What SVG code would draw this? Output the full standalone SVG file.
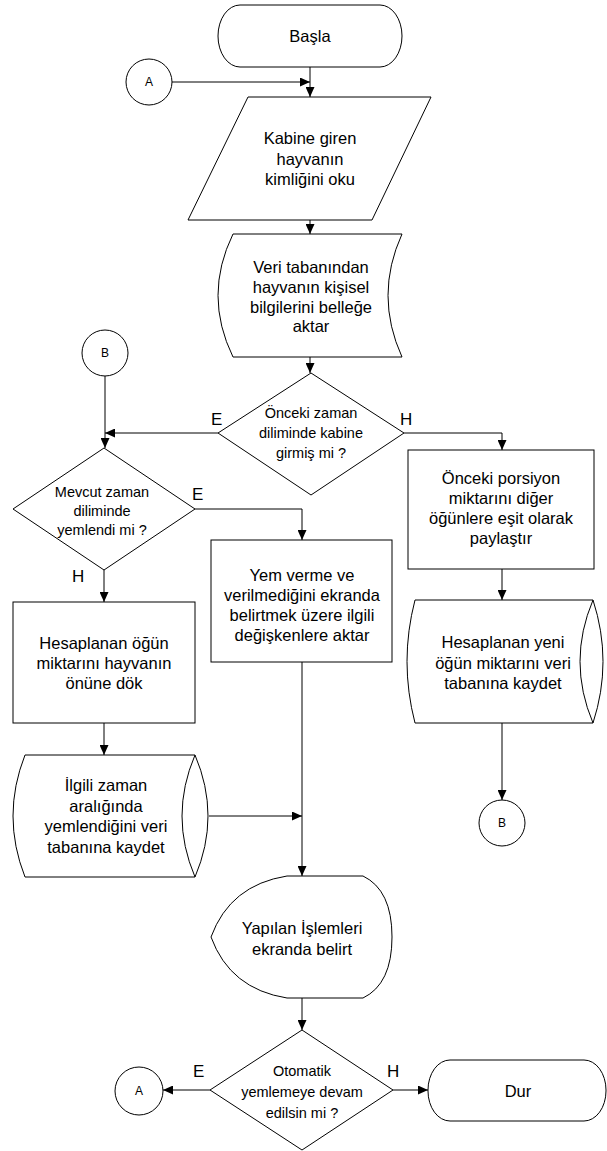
<svg xmlns="http://www.w3.org/2000/svg" width="607" height="1151" viewBox="0 0 607 1151">
<style>
.s{fill:#fff;stroke:#000;stroke-width:1}
.o{fill:none;stroke:#000;stroke-width:1}
.t{font-family:"Liberation Sans",Arial,sans-serif;font-size:16.5px;fill:#000;text-anchor:middle}
.d{font-family:"Liberation Sans",Arial,sans-serif;font-size:14.5px;fill:#000;text-anchor:middle}
.c{font-family:"Liberation Sans",Arial,sans-serif;font-size:12px;fill:#000;text-anchor:middle}
.l{font-family:"Liberation Sans",Arial,sans-serif;font-size:17px;fill:#000}
.e{fill:none;stroke:#000;stroke-width:1;marker-end:url(#ah)}
</style>
<defs>
<marker id="ah" markerUnits="userSpaceOnUse" markerWidth="10" markerHeight="9" refX="10" refY="4.5" orient="auto">
<path d="M0,0 L10,4.5 L0,9 Z" fill="#000"/>
</marker>
</defs>
<rect width="607" height="1151" fill="#fff"/>
<g id="connectors">
<path class="e" d="M310,67 V97"/>
<path class="e" d="M172,82 H310"/>
<path class="e" d="M310,220 V234"/>
<path class="e" d="M310,357 V373"/>
<path class="e" d="M218,433 H105"/>
<path class="e" d="M404,433 H502 V450"/>
<path class="e" d="M105,376 V448"/>
<path class="e" d="M195,509 H302 V540"/>
<path class="e" d="M104,570 V602"/>
<path class="e" d="M104,723 V755"/>
<path class="e" d="M209,816 H302"/>
<path class="e" d="M302,662 V876"/>
<path class="e" d="M502,569 V600"/>
<path class="e" d="M502,723 V800"/>
<path class="e" d="M302,998 V1030"/>
<path class="e" d="M210,1090 H163"/>
<path class="e" d="M393,1090 H428"/>
</g>
<g id="n-basla">
<rect class="s" x="218" y="5" width="184" height="62" rx="22" ry="31"/>
<text class="t" x="310" y="42">Başla</text>
</g>
<g id="n-a-top">
<circle class="s" cx="149" cy="82" r="23"/>
<text class="c" x="149" y="86">A</text>
</g>
<g id="n-kabine">
<path class="s" d="M248,97 H431 L372,220 H188 Z"/>
<text class="t" x="310" y="144">Kabine giren</text>
<text class="t" x="310" y="164.5">hayvanın</text>
<text class="t" x="310" y="185">kimliğini oku</text>
</g>
<g id="n-veri">
<path class="s" d="M233,234 H402 Q374,295.5 402,357 H233 Q203,295.5 233,234 Z"/>
<text class="t" x="311" y="273">Veri tabanından</text>
<text class="t" x="311" y="293">hayvanın kişisel</text>
<text class="t" x="311" y="313">bilgilerini belleğe</text>
<text class="t" x="311" y="332">aktar</text>
</g>
<g id="n-onceki-zaman">
<path class="s" d="M311,373 L404,433 L311,495 L218,433 Z"/>
<text class="d" x="311" y="418">Önceki zaman</text>
<text class="d" x="311" y="438">diliminde kabine</text>
<text class="d" x="311" y="458">girmiş mi ?</text>
<text class="l" x="211" y="425">E</text>
<text class="l" x="400" y="425">H</text>
</g>
<g id="n-b-left">
<circle class="s" cx="105" cy="353" r="23"/>
<text class="c" x="105" y="357">B</text>
</g>
<g id="n-mevcut">
<path class="s" d="M104,448 L195,509 L104,570 L13,509 Z"/>
<text class="d" x="102" y="497">Mevcut zaman</text>
<text class="d" x="102" y="516">diliminde</text>
<text class="d" x="102" y="535">yemlendi mi ?</text>
<text class="l" x="192" y="500">E</text>
<text class="l" x="72" y="582">H</text>
</g>
<g id="n-porsiyon">
<rect class="s" x="408" y="450" width="186" height="119"/>
<text class="t" x="501" y="484">Önceki porsiyon</text>
<text class="t" x="501" y="504">miktarını diğer</text>
<text class="t" x="501" y="524">öğünlere eşit olarak</text>
<text class="t" x="501" y="544">paylaştır</text>
</g>
<g id="n-yem-verme">
<rect class="s" x="211" y="540" width="181" height="122"/>
<text class="t" x="302" y="581">Yem verme ve</text>
<text class="t" x="302" y="601">verilmediğini ekranda</text>
<text class="t" x="302" y="621">belirtmek üzere ilgili</text>
<text class="t" x="302" y="641">değişkenlere aktar</text>
</g>
<g id="n-hesaplanan-ogun">
<rect class="s" x="13" y="602" width="182" height="121"/>
<text class="t" x="104" y="649">Hesaplanan öğün</text>
<text class="t" x="104" y="669">miktarını hayvanın</text>
<text class="t" x="104" y="689">önüne dök</text>
</g>
<g id="n-yeni-ogun">
<path class="s" d="M415,600 H593 Q567,661.5 593,723 H415 Q399,661.5 415,600 Z"/>
<path class="o" d="M593,600 Q613,661.5 593,723"/>
<text class="t" x="503" y="648">Hesaplanan yeni</text>
<text class="t" x="503" y="668.5">öğün miktarını veri</text>
<text class="t" x="503" y="689">tabanına kaydet</text>
</g>
<g id="n-b-right">
<circle class="s" cx="502" cy="823" r="23"/>
<text class="c" x="502" y="827">B</text>
</g>
<g id="n-ilgili">
<path class="s" d="M25,755 H195 Q169,816 195,877 H25 Q1,816 25,755 Z"/>
<path class="o" d="M195,755 Q221,816 195,877"/>
<text class="t" x="106" y="791">İlgili zaman</text>
<text class="t" x="106" y="811.5">aralığında</text>
<text class="t" x="106" y="832">yemlendiğini veri</text>
<text class="t" x="106" y="852.5">tabanına kaydet</text>
</g>
<g id="n-yapilan">
<path class="s" d="M287,876 H363 Q392,890 392,937 Q392,984 363,998 H287 Q230,989 211,937 Q230,885 287,876 Z"/>
<text class="t" x="302" y="934">Yapılan İşlemleri</text>
<text class="t" x="302" y="955">ekranda belirt</text>
</g>
<g id="n-otomatik">
<path class="s" d="M302,1030 L393,1090 L302,1150 L210,1090 Z"/>
<text class="d" x="302" y="1076">Otomatik</text>
<text class="d" x="302" y="1097">yemlemeye devam</text>
<text class="d" x="302" y="1118">edilsin mi ?</text>
<text class="l" x="193" y="1077">E</text>
<text class="l" x="387" y="1077">H</text>
</g>
<g id="n-a-bottom">
<circle class="s" cx="139" cy="1091" r="24"/>
<text class="c" x="139" y="1095">A</text>
</g>
<g id="n-dur">
<rect class="s" x="428" y="1060" width="178" height="61" rx="22" ry="30"/>
<text class="t" x="518" y="1097">Dur</text>
</g>
</svg>
